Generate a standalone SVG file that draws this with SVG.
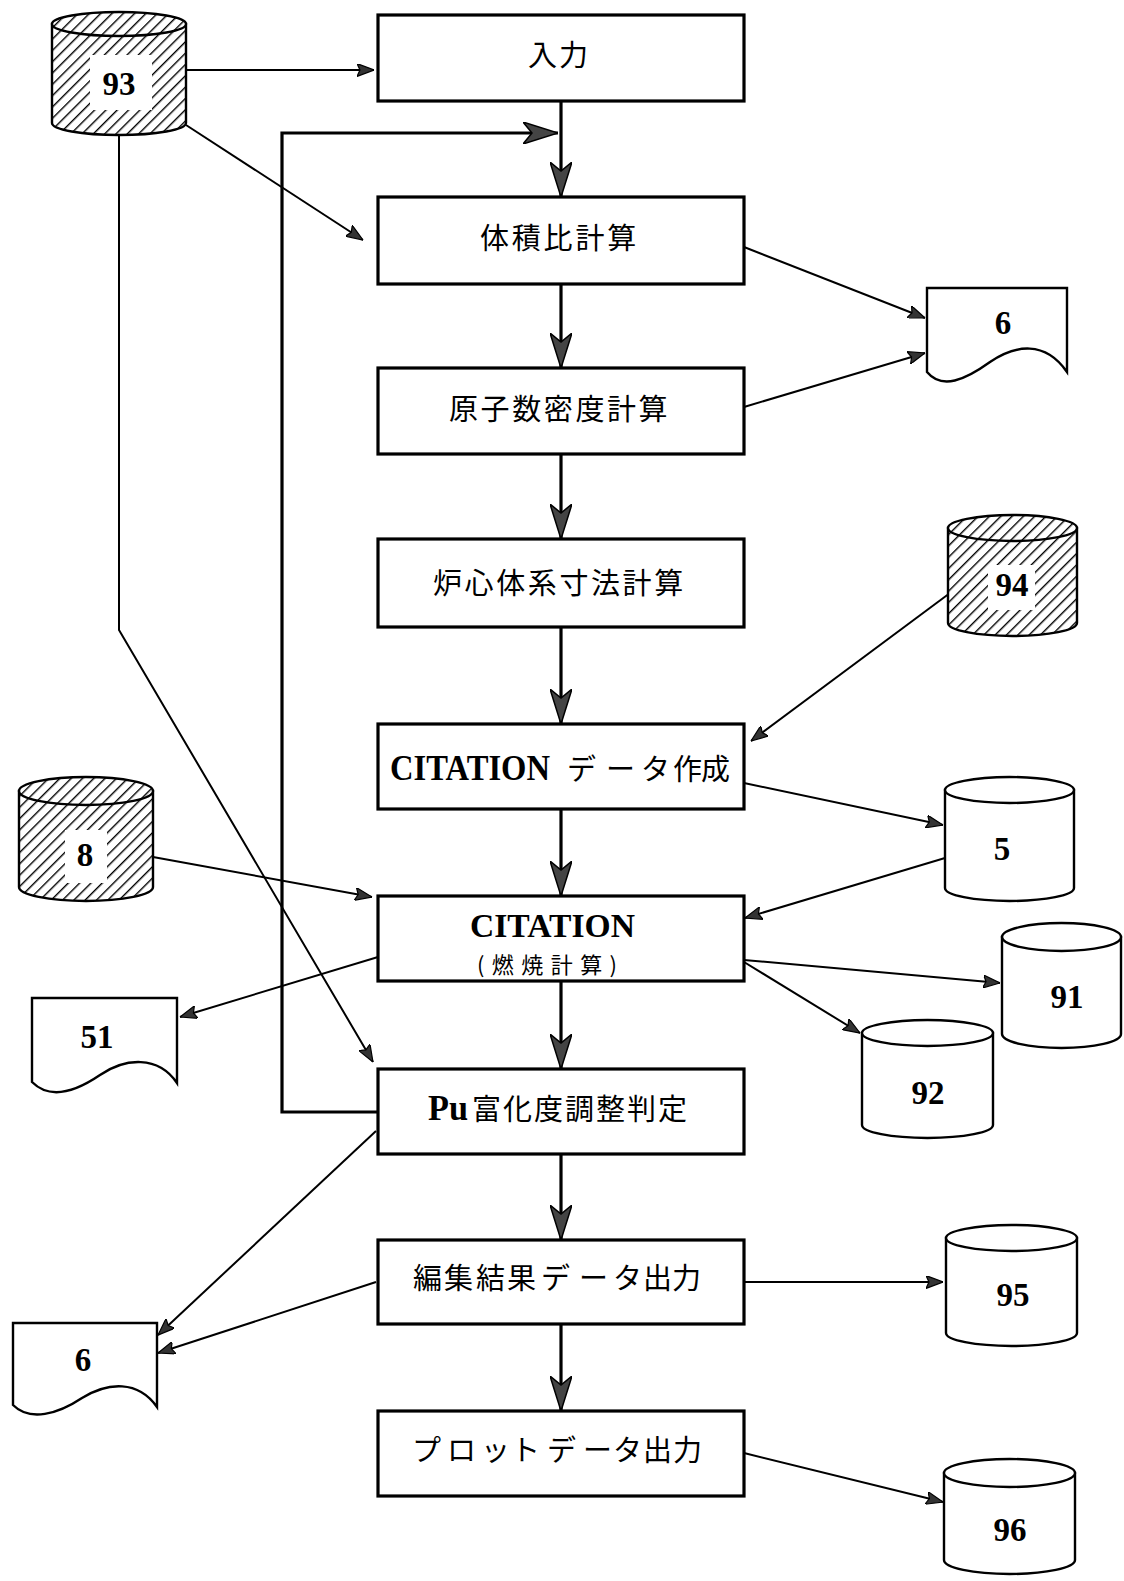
<svg xmlns="http://www.w3.org/2000/svg" width="1124" height="1581" viewBox="0 0 1124 1581">
<style>
.box{fill:#fff;stroke:#000;stroke-width:3.2}
.shp{fill:#fff;stroke:#000;stroke-width:2.4}
.hat{fill:url(#hatch);stroke:#000;stroke-width:2.4}
.jp{font-family:"Noto Sans CJK JP","Noto Sans",sans-serif;font-size:29px;fill:#000}
.lt{font-family:"Liberation Serif","Times New Roman",serif;font-weight:bold;fill:#000}
.num{font-family:"Liberation Serif","Times New Roman",serif;font-weight:bold;font-size:33px;fill:#000;text-anchor:middle}
.ln{fill:none;stroke:#000;stroke-width:2}
.main{fill:none;stroke:#000;stroke-width:3.2}
</style>
<defs>
<pattern id="hatch" patternUnits="userSpaceOnUse" width="8" height="8" patternTransform="rotate(45)">
<rect width="8" height="8" fill="#fff"/>
<line x1="0" y1="0" x2="0" y2="8" stroke="#000" stroke-width="2.8"/>
</pattern>
<marker id="big" markerUnits="userSpaceOnUse" viewBox="0 0 35 22" refX="35" refY="11" markerWidth="35" markerHeight="22" orient="auto">
<path d="M0,0 L35,11 L0,22 L9,11 Z" fill="#444" stroke="#000" stroke-width="1.5"/>
</marker>
<marker id="sm" markerUnits="userSpaceOnUse" viewBox="0 0 17 13" refX="17" refY="6.5" markerWidth="17" markerHeight="13" orient="auto">
<path d="M0,0 L17,6.5 L0,13 L3,6.5 Z" fill="#333" stroke="#000" stroke-width="1.2"/>
</marker>
</defs>
<rect width="1124" height="1581" fill="#fff"/>

<g id="connectors">
<path class="ln" d="M186,70 H374" marker-end="url(#sm)"/>
<path class="ln" d="M186,125 L363,240" marker-end="url(#sm)"/>
<path class="ln" d="M119,135 V630 L373,1062" marker-end="url(#sm)"/>
<path class="main" d="M378,1112 H282 V133 H558" marker-end="url(#big)"/>
<path class="main" d="M561,101 V197" marker-end="url(#big)"/>
<path class="main" d="M561,284 V368" marker-end="url(#big)"/>
<path class="main" d="M561,454 V539" marker-end="url(#big)"/>
<path class="main" d="M561,627 V724" marker-end="url(#big)"/>
<path class="main" d="M561,809 V896" marker-end="url(#big)"/>
<path class="main" d="M561,981 V1069" marker-end="url(#big)"/>
<path class="main" d="M561,1154 V1240" marker-end="url(#big)"/>
<path class="main" d="M561,1324 V1411" marker-end="url(#big)"/>
<path class="ln" d="M744,247 L925,318" marker-end="url(#sm)"/>
<path class="ln" d="M744,407 L925,353" marker-end="url(#sm)"/>
<path class="ln" d="M950,593 L751,741" marker-end="url(#sm)"/>
<path class="ln" d="M744,783 L943,825" marker-end="url(#sm)"/>
<path class="ln" d="M945,858 L745,918" marker-end="url(#sm)"/>
<path class="ln" d="M153,857 L372,897" marker-end="url(#sm)"/>
<path class="ln" d="M378,957 L180,1017" marker-end="url(#sm)"/>
<path class="ln" d="M744,960 L1000,983" marker-end="url(#sm)"/>
<path class="ln" d="M744,962 L860,1033" marker-end="url(#sm)"/>
<path class="ln" d="M376,1131 L158,1335" marker-end="url(#sm)"/>
<path class="ln" d="M376,1282 L158,1353" marker-end="url(#sm)"/>
<path class="ln" d="M744,1282 H943" marker-end="url(#sm)"/>
<path class="ln" d="M744,1453 L943,1502" marker-end="url(#sm)"/>
</g>

<g id="n-input">
<rect class="box" x="378" y="15" width="366" height="86"/>
<text class="jp" x="528" y="66" letter-spacing="2">入力</text>
</g>
<g id="n-volume">
<rect class="box" x="378" y="197" width="366" height="87"/>
<text class="jp" x="480" y="249" letter-spacing="2.8">体積比計算</text>
</g>
<g id="n-atom">
<rect class="box" x="378" y="368" width="366" height="86"/>
<text class="jp" x="449" y="420" letter-spacing="2.6">原子数密度計算</text>
</g>
<g id="n-core">
<rect class="box" x="378" y="539" width="366" height="88"/>
<text class="jp" x="433" y="594" letter-spacing="2.6">炉心体系寸法計算</text>
</g>
<g id="n-citdata">
<rect class="box" x="378" y="724" width="366" height="85"/>
<text y="780"><tspan class="lt" x="390" font-size="35" textLength="160" lengthAdjust="spacingAndGlyphs">CITATION</tspan><tspan class="jp" x="567 606 641 673 701">データ作成</tspan></text>
</g>
<g id="n-citation">
<rect class="box" x="378" y="896" width="366" height="85"/>
<text class="lt" x="470" y="937" font-size="34" textLength="165" lengthAdjust="spacingAndGlyphs">CITATION</text>
<text x="477" y="973" font-size="22" textLength="140" lengthAdjust="spacing" font-family="Noto Sans CJK JP, Noto Sans, sans-serif">(燃焼計算)</text>
</g>
<g id="n-pu">
<rect class="box" x="378" y="1069" width="366" height="85"/>
<text y="1120"><tspan class="lt" x="428" font-size="36" textLength="40" lengthAdjust="spacingAndGlyphs">Pu</tspan><tspan class="jp" x="472 503 534 565 596 627 658">富化度調整判定</tspan></text>
</g>
<g id="n-edit">
<rect class="box" x="378" y="1240" width="366" height="84"/>
<text class="jp" y="1289" x="413 444 476 507 541 579 613 643 672">編集結果データ出力</text>
</g>
<g id="n-plot">
<rect class="box" x="378" y="1411" width="366" height="85"/>
<text class="jp" y="1461" x="412 447 481 511 547 583 613 643 673">プロットデータ出力</text>
</g>

<g id="n-93">
<path class="hat" d="M52,24 V123 A67,12 0 0 0 186,123 V24 Z"/>
<ellipse class="hat" cx="119" cy="24" rx="67" ry="12"/>
<rect x="90" y="55" width="62" height="55" fill="#fff"/>
<text class="num" x="119" y="95">93</text>
</g>
<g id="n-94">
<path class="hat" d="M948,528 V623 A64.5,13 0 0 0 1077,623 V528 Z"/>
<ellipse class="hat" cx="1012.5" cy="528" rx="64.5" ry="13"/>
<rect x="988" y="565" width="47" height="45" fill="#fff"/>
<text class="num" x="1012" y="596">94</text>
</g>
<g id="n-8">
<path class="hat" d="M19,791 V887 A67,14 0 0 0 153,887 V791 Z"/>
<ellipse class="hat" cx="86" cy="791" rx="67" ry="14"/>
<rect x="65" y="830" width="42" height="53" fill="#fff"/>
<text class="num" x="85" y="866">8</text>
</g>
<g id="n-5">
<path class="shp" d="M945,790 V888 A64.5,13 0 0 0 1074,888 V790 Z"/>
<ellipse class="shp" cx="1009.5" cy="790" rx="64.5" ry="13"/>
<text class="num" x="1002" y="860">5</text>
</g>
<g id="n-91">
<path class="shp" d="M1002,937 V1034 A59.5,14 0 0 0 1121,1034 V937 Z"/>
<ellipse class="shp" cx="1061.5" cy="937" rx="59.5" ry="14"/>
<text class="num" x="1067" y="1008">91</text>
</g>
<g id="n-92">
<path class="shp" d="M862,1033 V1125 A65.5,13 0 0 0 993,1125 V1033 Z"/>
<ellipse class="shp" cx="927.5" cy="1033" rx="65.5" ry="13"/>
<text class="num" x="928" y="1104">92</text>
</g>
<g id="n-95">
<path class="shp" d="M946,1238 V1333 A65.5,13 0 0 0 1077,1333 V1238 Z"/>
<ellipse class="shp" cx="1011.5" cy="1238" rx="65.5" ry="13"/>
<text class="num" x="1013" y="1306">95</text>
</g>
<g id="n-96">
<path class="shp" d="M944,1473 V1560 A65.5,14 0 0 0 1075,1560 V1473 Z"/>
<ellipse class="shp" cx="1009.5" cy="1473" rx="65.5" ry="14"/>
<text class="num" x="1010" y="1541">96</text>
</g>

<g id="n-doc6a">
<path class="shp" d="M927,288 H1067 V372 C1045,340 1015,345 990,362 C965,380 942,390 927,372 Z"/>
<text class="num" x="1003" y="334" font-size="28">6</text>
</g>
<g id="n-doc51">
<path class="shp" d="M32,998 H177 V1083 C158,1055 125,1058 100,1075 C75,1092 50,1100 32,1082 Z"/>
<text class="num" x="97" y="1048">51</text>
</g>
<g id="n-doc6b">
<path class="shp" d="M13,1323 H157 V1407 C138,1380 108,1382 82,1398 C58,1414 30,1422 13,1405 Z"/>
<text class="num" x="83" y="1371" font-size="28">6</text>
</g>
</svg>
